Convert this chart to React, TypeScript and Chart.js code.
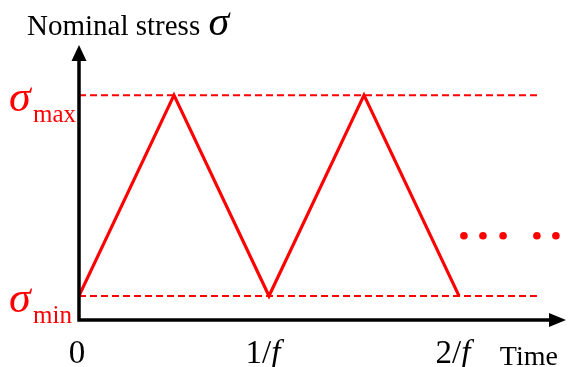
import React, { useEffect, useRef } from "react";
import { Chart, registerables } from "chart.js";

Chart.register(...registerables);

// Loading cycle (time in units of the period 1/f, stress normalised: 0 = σmin, 1 = σmax)
const cycleTime = [0, 0.5, 1, 1.5, 2];
const cycleStress = [0, 1, 0, 1, 0];

// Reference stress levels (dashed lines)
const levelNames = ["max", "min"];
const levelValues = [1, 0];
const levelEnds = [2.43, 2.41];

// Continuation dots
const dotTime = [2.026, 2.126, 2.232, 2.41, 2.51];
const dotStress = [0.3, 0.3, 0.3, 0.3, 0.3];

// Time tick labels
const tickValues = [0, 1, 2];
const tickNumerators = ["0", "1/", "2/"];
const tickItalics = ["", "f", "f"];

// Axis extents
const axisOrigin = { x: 0, y: -0.12 };
const xArrowTip = 2.563;
const yArrowTip = 1.25;

const RED = "#ff0000";
const SERIF = "'Liberation Serif', 'Times New Roman', serif";

const diagramPlugin = {
  id: "diagram",
  afterDatasetsDraw(chart: any) {
    const { ctx, scales } = chart;
    const xs = scales.x;
    const ys = scales.y;
    const ox = xs.getPixelForValue(axisOrigin.x);
    const oy = ys.getPixelForValue(axisOrigin.y);
    const xt = xs.getPixelForValue(xArrowTip);
    const yt = ys.getPixelForValue(yArrowTip);
    ctx.save();
    // axes
    ctx.strokeStyle = "#000";
    ctx.fillStyle = "#000";
    ctx.lineWidth = 3.5;
    ctx.lineCap = "butt";
    ctx.beginPath();
    ctx.moveTo(ox, oy + 1.75);
    ctx.lineTo(ox, yt + 12);
    ctx.moveTo(ox - 1.75, oy);
    ctx.lineTo(xt - 12, oy);
    ctx.stroke();
    // arrow heads
    ctx.beginPath();
    ctx.moveTo(ox, yt);
    ctx.lineTo(ox - 7.5, yt + 16);
    ctx.lineTo(ox + 7.5, yt + 16);
    ctx.closePath();
    ctx.fill();
    ctx.beginPath();
    ctx.moveTo(xt, oy);
    ctx.lineTo(xt - 17, oy - 7);
    ctx.lineTo(xt - 17, oy + 7);
    ctx.closePath();
    ctx.fill();

    ctx.textBaseline = "alphabetic";
    ctx.textAlign = "left";
    // y axis title
    ctx.font = `29px ${SERIF}`;
    ctx.fillText("Nominal stress ", 27, 35);
    const w = ctx.measureText("Nominal stress ").width;
    ctx.font = `italic 42px ${SERIF}`;
    ctx.fillText("σ", 27 + w + 1, 35);

    // stress level labels
    ctx.fillStyle = RED;
    levelValues.forEach((v, i) => {
      const py = ys.getPixelForValue(v);
      ctx.font = `italic 44px ${SERIF}`;
      ctx.fillText("σ", 9, py + 16);
      ctx.font = `25px ${SERIF}`;
      ctx.fillText(levelNames[i], 33, py + 27);
    });

    // time tick labels
    ctx.fillStyle = "#000";
    tickValues.forEach((v, i) => {
      const px = xs.getPixelForValue(v);
      ctx.font = `33px ${SERIF}`;
      const w1 = ctx.measureText(tickNumerators[i]).width;
      ctx.font = `italic 33px ${SERIF}`;
      const w2 = ctx.measureText(tickItalics[i]).width;
      const total = w1 + w2;
      const shift = tickItalics[i] ? -6 : -2;
      const start = px + shift - total / 2;
      ctx.font = `33px ${SERIF}`;
      ctx.fillText(tickNumerators[i], start, oy + 43);
      ctx.font = `italic 33px ${SERIF}`;
      ctx.fillText(tickItalics[i], start + w1, oy + 43);
    });

    // x axis title
    ctx.font = `28px ${SERIF}`;
    ctx.textAlign = "right";
    ctx.fillText("Time", xt - 8, oy + 45);
    ctx.restore();
  },
};

export default function App() {
  const canvasRef = useRef<HTMLCanvasElement | null>(null);

  useEffect(() => {
    if (!canvasRef.current) return;
    const datasets: any[] = [
      {
        data: cycleTime.map((t, i) => ({ x: t, y: cycleStress[i] })),
        borderColor: RED,
        borderWidth: 3.2,
        pointRadius: 0,
        tension: 0,
        fill: false,
        borderJoinStyle: "miter",
        clip: false,
      },
      ...levelValues.map((v, i) => ({
        data: [
          { x: axisOrigin.x, y: v },
          { x: levelEnds[i], y: v },
        ],
        borderColor: RED,
        borderWidth: 2,
        borderDash: [7, 4],
        pointRadius: 0,
        fill: false,
        clip: false,
      })),
      {
        data: dotTime.map((t, i) => ({ x: t, y: dotStress[i] })),
        showLine: false,
        pointRadius: 3.8,
        pointBackgroundColor: RED,
        pointBorderWidth: 0,
        borderColor: RED,
        clip: false,
      },
    ];
    const chart = new Chart(canvasRef.current, {
      type: "line",
      data: { datasets },
      options: {
        responsive: false,
        animation: false,
        devicePixelRatio: 1,
        layout: { padding: { left: 79, right: 8.5, top: 45, bottom: 47 } },
        plugins: { legend: { display: false }, tooltip: { enabled: false } },
        events: [],
        scales: {
          x: { type: "linear", min: 0, max: 2.55, display: false },
          y: { type: "linear", min: axisOrigin.y, max: yArrowTip, display: false },
        },
      },
      plugins: [diagramPlugin],
    });
    return () => chart.destroy();
  }, []);

  return (
    <div style={{ position: "fixed", left: 0, top: 0, width: 572, height: 367, background: "#fff" }}>
      <canvas ref={canvasRef} width={572} height={367} style={{ display: "block" }} />
    </div>
  );
}
